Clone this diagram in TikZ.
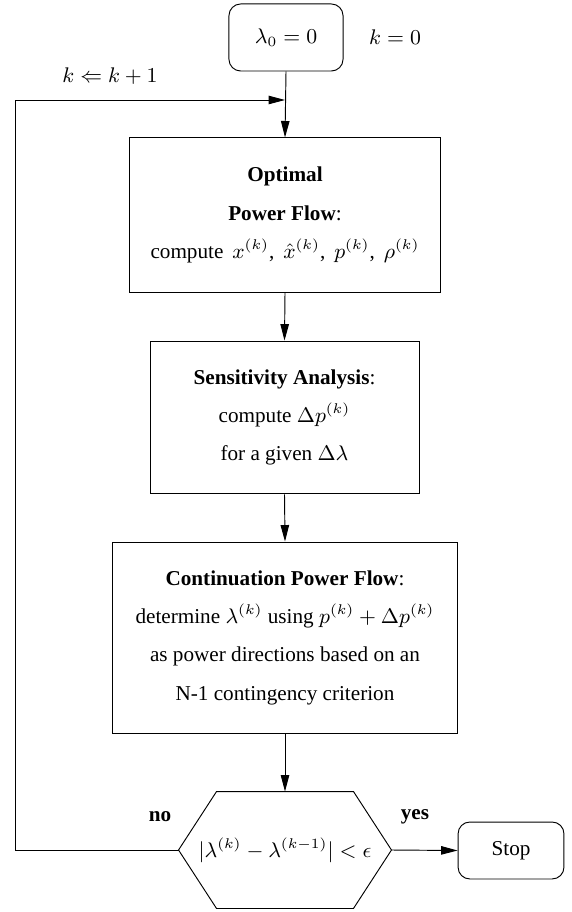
\documentclass[tikz,border=0pt]{standalone}
\usepackage{amsmath}
\usepackage{amssymb}
\usepackage{fontspec}
\setmainfont{Liberation Serif}
\usetikzlibrary{arrows.meta}

\begin{document}
\begin{tikzpicture}[
            x=0.425pt, y=-0.425pt,
            font={\fontsize{9pt}{11pt}\selectfont},
            block/.style={rectangle, draw, align=center, inner sep=0pt, font={\fontsize{9pt}{16.3pt}\selectfont}},
            terminal/.style={rectangle, draw, rounded corners=5pt, align=center, inner sep=0pt},
            decision/.style={rectangle, inner sep=0pt, minimum width=90.1pt, minimum height=49.3pt},
            arrow/.style={->,>={Triangle[length=7pt,width=3.6pt]}}
        ]
            \useasboundingbox (0,0) rectangle (572,912);

            % Start
            \node[terminal, minimum width=48.5pt, minimum height=28.5pt] (start) at (286,37.5) {$\lambda_0=0$};
            \node (init) at (395,37.5) {$k=0$};

            % First Block
            \node[block, minimum width=131.8pt, minimum height=65.5pt] (opf) at (285,215) {
                \textbf{Optimal}\\
                \textbf{Power Flow}:\\
                {\spaceskip=3.8pt plus 1pt compute $x^{(k)}$, $\hat{x}^{(k)}$, $p^{(k)}$, $\rho^{(k)}$}
            };
            % Second Block
            \node[block, minimum width=114.3pt, minimum height=65pt] (sens) at (284.5,417.5) {
                \textbf{Sensitivity Analysis}:\\
                compute $\Delta p^{(k)}$\\
                for a given $\Delta\lambda$
            };
            % Third Block
            \node[block, minimum width=147pt, minimum height=81.2pt] (cpf) at (285,637.5) {
                \textbf{Continuation Power Flow}:\\
                determine $\lambda^{(k)}$ using $p^{(k)}+\Delta p^{(k)}$\\
                as power directions based on an\\
                N-1 contingency criterion
            };

            % Check (hexagon) and stop
            \node[decision] (check) at (285,850) {$|\lambda^{(k)}-\lambda^{(k-1)}|<\epsilon$};
            \draw (check.west) -- ([xshift=16.15pt]check.north west) -- ([xshift=-16.15pt]check.north east)
                -- (check.east) -- ([xshift=-16.15pt]check.south east) -- ([xshift=16.15pt]check.south west) -- cycle;
            \node[terminal, minimum width=45pt, minimum height=24.2pt] (stop) at (511,850.5) {Stop};
            \node (no) at (160,817) {\textbf{no}};
            \node (yes) at (415,817) {\textbf{yes}};

            % Loop back
            \coordinate (back) at (15,100);
            \coordinate (merge) at (285,100);
            \node (incr) at (110,76) {$k\Leftarrow k+1$};

            % Arrows
            \draw[arrow] (start.south) -- (opf.north);
            \draw[arrow] (opf.south) -- (sens.north);
            \draw[arrow] (sens.south) -- (cpf.north);
            \draw[arrow] (cpf.south) -- (check.north);
            \draw[arrow] (check.east) -- (stop.west);
            \draw[arrow] (check.west) -| (back) -- (merge);

        \end{tikzpicture}
\end{document}
